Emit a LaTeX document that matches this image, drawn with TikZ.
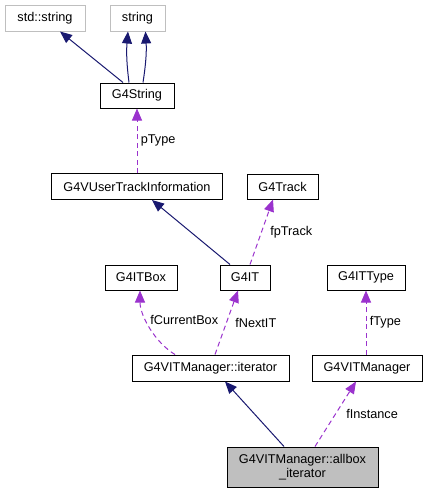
\documentclass[tikz,border=0pt]{standalone}
\usepackage{fontspec}
\setmainfont{Liberation Sans}
\usetikzlibrary{arrows.meta}
\definecolor{inhblue}{HTML}{191970}
\definecolor{usepurple}{HTML}{9A32CD}
\definecolor{extgray}{HTML}{BFBFBF}

\begin{document}
\begin{tikzpicture}[x=1pt,y=-1pt,
      ClassBox/.style={
        draw=black, line width=1pt, fill=white, inner sep=0pt,
        minimum height=25pt, align=center,
        font=\fontsize{12.7}{14.5}\selectfont,
      },
      ExtBox/.style={ClassBox, draw=extgray},
      Inherit/.style={
        draw=inhblue, line width=1pt,
        -{Triangle[length=12pt,width=10pt]},
      },
      Usage/.style={
        draw=usepurple, line width=1pt, dash pattern=on 5pt off 3.5pt,
        -{Triangle[length=12pt,width=10pt,fill=usepurple]},
      },
      Role/.style={font=\fontsize{12.7}{14.5}\selectfont, text=black},
      ]
      \useasboundingbox (0,0) rectangle (425,493);

      \node[ExtBox, minimum width=80pt, minimum height=26pt] (STD) at (45, 18) {std::string};
      \node[ExtBox, minimum width=55pt, minimum height=26pt] (STR) at (137.5, 18) {string};
      \node[ClassBox, minimum width=74pt] (G4S) at (137, 95.5) {G4String};
      \node[ClassBox, minimum width=171pt, minimum height=26pt] (UTI) at (137, 186.5) {G4VUserTrackInformation};
      \node[ClassBox, minimum width=71pt] (TRK) at (282.5, 186.5) {G4Track};
      \node[ClassBox, minimum width=72pt] (BOX) at (141, 277.5) {G4ITBox};
      \node[ClassBox, minimum width=50pt] (IT) at (245, 277.5) {G4IT};
      \node[ClassBox, minimum width=78pt] (TYP) at (366, 277.5) {G4ITType};
      \node[ClassBox, minimum width=157pt, minimum height=26pt] (ITR) at (210.5, 368) {G4VITManager::iterator};
      \node[ClassBox, minimum width=110pt, minimum height=26pt] (MGR) at (367, 368) {G4VITManager};
      \node[ClassBox, fill=extgray, minimum width=151pt, minimum height=40pt] (ALL) at (302.5, 467) {G4VITManager::allbox\\\_iterator};

      \draw[Inherit] ([xshift=-14pt]G4S.north) -- ([xshift=15pt]STD.south);
      \draw[Inherit] ([xshift=-8pt]G4S.north) to[bend left=6] ([xshift=-9.5pt]STR.south);
      \draw[Inherit] ([xshift=6pt]G4S.north) to[bend right=6] ([xshift=8pt]STR.south);

      \draw[Usage] (UTI.north) -- (G4S.south) node[midway,right,Role] {pType};

      \draw[Inherit] ([xshift=-15pt]IT.north) -- ([xshift=15pt]UTI.south);
      \draw[Usage] ([xshift=5pt]IT.north) -- ([xshift=-9.5pt]TRK.south)
        node[midway,right,Role,xshift=5pt] {fpTrack};

      \draw[Usage] ([xshift=-35.5pt]ITR.north) .. controls +(-20,-12) and +(0,25) .. ([xshift=-1pt]BOX.south)
        node[pos=0.6,right,Role] {fCurrentBox};
      \draw[Usage] ([xshift=4.5pt]ITR.north) -- ([xshift=-7pt]IT.south)
        node[midway,right,Role,xshift=5pt] {fNextIT};
      \draw[Usage] ([xshift=-1pt]MGR.north) -- (TYP.south) node[midway,right,Role] {fType};

      \draw[Inherit] ([xshift=-18.5pt]ALL.north) -- ([xshift=14.5pt]ITR.south);
      \draw[Usage] ([xshift=12.5pt]ALL.north) -- ([xshift=-11pt]MGR.south)
        node[midway,right,Role,xshift=7pt] {fInstance};
    \end{tikzpicture}
\end{document}
